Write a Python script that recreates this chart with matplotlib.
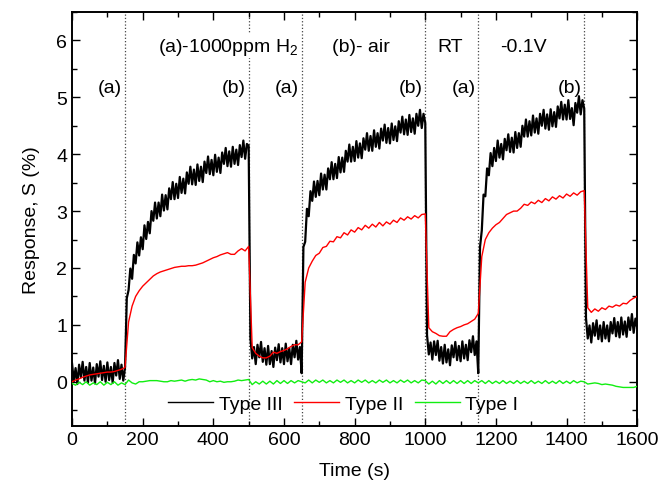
import numpy as np
import matplotlib
matplotlib.use('Agg')
from matplotlib import pyplot as plt
from matplotlib.ticker import MultipleLocator

plt.rcParams['font.family'] = ['Liberation Sans', 'DejaVu Sans']
plt.rcParams['mathtext.fontset'] = 'custom'
plt.rcParams['mathtext.rm'] = 'Liberation Sans'
plt.rcParams['mathtext.default'] = 'regular'

# Type III is noisy, read at 5 s steps; the smoother traces at 10 s steps
time_fine = np.arange(0, 1601, 5)
time = np.arange(0, 1601, 10)

# Type III (black, noisy)
type3 = [0.32, 0.01, 0.24, -0.04, 0.30, 0.08, 0.35, 0.02, 0.26, -0.02,
         0.33, 0.02, 0.25, -0.03, 0.31, 0.09, 0.36, 0.03, 0.28, 0.00,
         0.34, 0.03, 0.26, -0.02, 0.33, 0.11, 0.38, 0.05, 0.30, 0.02, 0.25,
         # 155 - 500
         1.47, 1.61, 1.99, 1.81, 2.23, 2.08, 2.45, 2.22, 2.54, 2.33,
         2.75, 2.51, 2.81, 2.61, 3.00, 2.83, 3.15, 2.87, 3.15, 2.91,
         3.29, 3.01, 3.28, 3.03, 3.40, 3.21, 3.51, 3.21, 3.48, 3.23,
         3.60, 3.32, 3.57, 3.31, 3.68, 3.48, 3.78, 3.47, 3.73, 3.46,
         3.82, 3.53, 3.78, 3.51, 3.87, 3.67, 3.96, 3.65, 3.90, 3.63,
         3.99, 3.69, 3.94, 3.67, 4.03, 3.83, 4.11, 3.79, 4.05, 3.78,
         4.13, 3.83, 4.08, 3.81, 4.16, 3.95, 4.24, 3.92, 4.18, 4.15,
         # 505 - 650
         0.77, 0.41, 0.61, 0.31, 0.65, 0.43, 0.70, 0.35, 0.59, 0.30,
         0.63, 0.31, 0.54, 0.26, 0.60, 0.38, 0.66, 0.34, 0.59, 0.31,
         0.67, 0.36, 0.59, 0.31, 0.65, 0.43, 0.72, 0.39, 0.61, 0.15,
         # 655 - 1000
         2.37, 2.46, 3.04, 2.91, 3.35, 3.18, 3.52, 3.25, 3.53, 3.28,
         3.66, 3.38, 3.64, 3.38, 3.75, 3.56, 3.86, 3.56, 3.83, 3.58,
         3.95, 3.68, 3.94, 3.69, 4.06, 3.87, 4.17, 3.87, 4.13, 3.88,
         4.23, 3.94, 4.19, 3.93, 4.28, 4.08, 4.37, 4.06, 4.32, 4.06,
         4.42, 4.13, 4.37, 4.10, 4.45, 4.24, 4.52, 4.20, 4.46, 4.19,
         4.54, 4.25, 4.49, 4.23, 4.58, 4.38, 4.66, 4.35, 4.61, 4.34,
         4.69, 4.39, 4.63, 4.36, 4.71, 4.50, 4.78, 4.46, 4.71, 4.55,
         # 1005 - 1150
         0.82, 0.48, 0.69, 0.39, 0.71, 0.47, 0.72, 0.37, 0.61, 0.32,
         0.65, 0.34, 0.57, 0.29, 0.64, 0.43, 0.70, 0.38, 0.63, 0.36,
         0.71, 0.41, 0.65, 0.38, 0.73, 0.52, 0.80, 0.47, 0.71, 0.15,
         # 1155 - 1450
         2.37, 2.66, 3.29, 3.26, 3.75, 3.63, 4.02, 3.79, 4.11, 3.88,
         4.24, 3.94, 4.18, 3.91, 4.27, 4.07, 4.35, 4.04, 4.29, 4.03,
         4.39, 4.11, 4.37, 4.13, 4.50, 4.31, 4.61, 4.31, 4.58, 4.33,
         4.68, 4.38, 4.63, 4.36, 4.71, 4.50, 4.78, 4.45, 4.70, 4.43,
         4.79, 4.49, 4.74, 4.48, 4.84, 4.63, 4.92, 4.61, 4.87, 4.61,
         4.95, 4.62, 4.81, 4.51, 4.90, 4.73, 5.02, 4.70, 4.95, 4.80,
         # 1455 - 1600
         1.12, 0.76, 0.99, 0.69, 1.03, 0.81, 1.08, 0.75, 0.99, 0.71,
         1.05, 0.76, 0.99, 0.71, 1.05, 0.85, 1.12, 0.80, 1.05, 0.78,
         1.13, 0.83, 1.06, 0.79, 1.13, 0.91, 1.19, 0.86, 1.11, 0.95]

# Type II (red)
type2 = [0.00, 0.03, 0.05, 0.08, 0.10, 0.12, 0.13, 0.14, 0.15, 0.16, 0.17, 0.17, 0.18, 0.20, 0.22, 0.25,
         1.05, 1.33, 1.50, 1.60, 1.68, 1.74, 1.80, 1.86, 1.90, 1.93, 1.95, 1.97, 1.99, 2.01, 2.02, 2.03,
         2.03, 2.04, 2.04, 2.05, 2.07, 2.09, 2.12, 2.15, 2.18, 2.20, 2.23, 2.25, 2.27, 2.24, 2.24, 2.30,
         2.34, 2.30, 2.38,
         0.60, 0.50, 0.45, 0.42, 0.42, 0.45, 0.52, 0.50, 0.53, 0.55, 0.58, 0.62, 0.65, 0.65, 0.70,
         1.75, 2.00, 2.12, 2.22, 2.26, 2.36, 2.38, 2.47, 2.46, 2.55, 2.53, 2.62, 2.58, 2.67, 2.63, 2.71,
         2.67, 2.75, 2.70, 2.77, 2.72, 2.80, 2.74, 2.81, 2.77, 2.84, 2.80, 2.88, 2.84, 2.90, 2.86, 2.92,
         2.88, 2.94, 2.95,
         0.95, 0.88, 0.85, 0.81, 0.80, 0.80, 0.88, 0.92, 0.95, 0.97, 1.00, 1.02, 1.06, 1.10, 1.20,
         2.20, 2.50, 2.62, 2.70, 2.76, 2.80, 2.87, 2.94, 2.97, 3.00, 3.00, 3.05, 3.12, 3.10, 3.16, 3.13,
         3.19, 3.15, 3.22, 3.18, 3.25, 3.21, 3.27, 3.23, 3.30, 3.26, 3.32, 3.28, 3.34, 3.36,
         1.30, 1.22, 1.28, 1.24, 1.30, 1.27, 1.33, 1.31, 1.35, 1.33, 1.38, 1.37, 1.43, 1.47, 1.50]

# Type I (green)
type1 = [-0.03, -0.06, -0.01, -0.05, 0.00, -0.06, -0.02, -0.05, 0.00, -0.06, -0.01, -0.05, 0.00, -0.06, -0.02, -0.05,
         0.03, -0.02, -0.04, 0.00, 0.00, 0.01, 0.02, 0.02, 0.02, 0.01, 0.00, 0.00, 0.02, 0.01, 0.02, 0.03,
         0.01, 0.03, 0.04, 0.03, 0.05, 0.04, 0.03, 0.00, 0.02, 0.00, 0.01, -0.01, 0.00, 0.00, 0.01, 0.03,
         0.02, 0.03, 0.04,
         -0.05, 0.00, -0.04, 0.01, -0.04, 0.01, -0.04, 0.02, -0.03, 0.02, -0.03, 0.02, -0.02, 0.02, 0.00,
         -0.02, 0.03, -0.02, 0.03, -0.01, 0.03, -0.02, 0.02, -0.02, 0.03, -0.01, 0.03, -0.02, 0.02, -0.02, 0.03,
         -0.01, 0.03, -0.02, 0.02, -0.02, 0.03, -0.01, 0.03, -0.02, 0.02, -0.02, 0.03, -0.01, 0.03, -0.02, 0.02,
         -0.02, 0.03, 0.02,
         -0.04, 0.01, -0.04, 0.02, -0.03, 0.02, -0.03, 0.02, -0.03, 0.02, -0.03, 0.02, -0.03, 0.02, -0.02,
         0.02, -0.03, 0.02, -0.03, 0.01, -0.03, 0.02, -0.03, 0.01, -0.03, 0.02, -0.03, 0.01, -0.03, 0.02, -0.03,
         0.01, -0.03, 0.02, -0.03, 0.01, -0.03, 0.02, -0.03, 0.01, -0.03, 0.02, -0.02, 0.01, 0.00,
         -0.04, -0.03, -0.02, -0.03, -0.05, -0.04, -0.05, -0.06, -0.08, -0.09, -0.10, -0.10, -0.10, -0.10, -0.08]

assert len(type3) == len(time_fine), len(type3)

# gas switching times
switch_times = [150, 500, 650, 1000, 1150, 1450]
marker_labels = ['(a)', '(b)', '(a)', '(b)', '(a)', '(b)']

fig = plt.figure(figsize=(6.61, 4.81), dpi=100)
ax = fig.add_axes([0.109, 0.112, 0.855, 0.861])

for t in switch_times:
    ax.axvline(t, color='#444444', linestyle=':', linewidth=0.9, zorder=1)

ax.plot(time_fine, type3, color='black', linewidth=1.6, label='Type III', zorder=2)
ax.plot(time, type2, color='red', linewidth=1.0, label='Type II', zorder=3)
ax.plot(time, type1, color='#11ee11', linewidth=1.0, label='Type I', zorder=4)

for t, lab in zip(switch_times, marker_labels):
    ax.text(t - 8, 5.18, lab, fontsize=14, ha='right', va='center')

ax.text(244, 5.9, r'(a)-1000ppm H$_2$', fontsize=14, ha='left', va='center',
        bbox=dict(facecolor='white', edgecolor='none', pad=1), zorder=5)
ax.text(736, 5.9, '(b)- air', fontsize=14, ha='left', va='center')
ax.text(1033, 5.9, 'RT', fontsize=14, ha='left', va='center')
ax.text(1211, 5.9, '-0.1V', fontsize=14, ha='left', va='center')

ax.set_xlim(0, 1600)
ax.set_ylim(-0.78, 6.5)
ax.xaxis.set_major_locator(MultipleLocator(200))
ax.xaxis.set_minor_locator(MultipleLocator(100))
ax.yaxis.set_major_locator(MultipleLocator(1))
ax.yaxis.set_minor_locator(MultipleLocator(0.5))
ax.tick_params(which='both', direction='in', top=True, right=True, labelsize=14)
ax.tick_params(which='major', length=6, width=1)
ax.tick_params(which='minor', length=3.5, width=1)
for s in ax.spines.values():
    s.set_linewidth(1.4)

ax.set_xlabel('Time (s)', fontsize=14, labelpad=10)
ax.set_ylabel('Response, S (%)', fontsize=14, labelpad=12)

leg = ax.legend(loc='lower center', bbox_to_anchor=(0.48, -0.01), ncol=3, frameon=False,
                fontsize=14, handlelength=2.3, handletextpad=0.3, columnspacing=0.6)
for line in leg.get_lines():
    line.set_linewidth(1.0)

fig.savefig('out.png', dpi=100)
